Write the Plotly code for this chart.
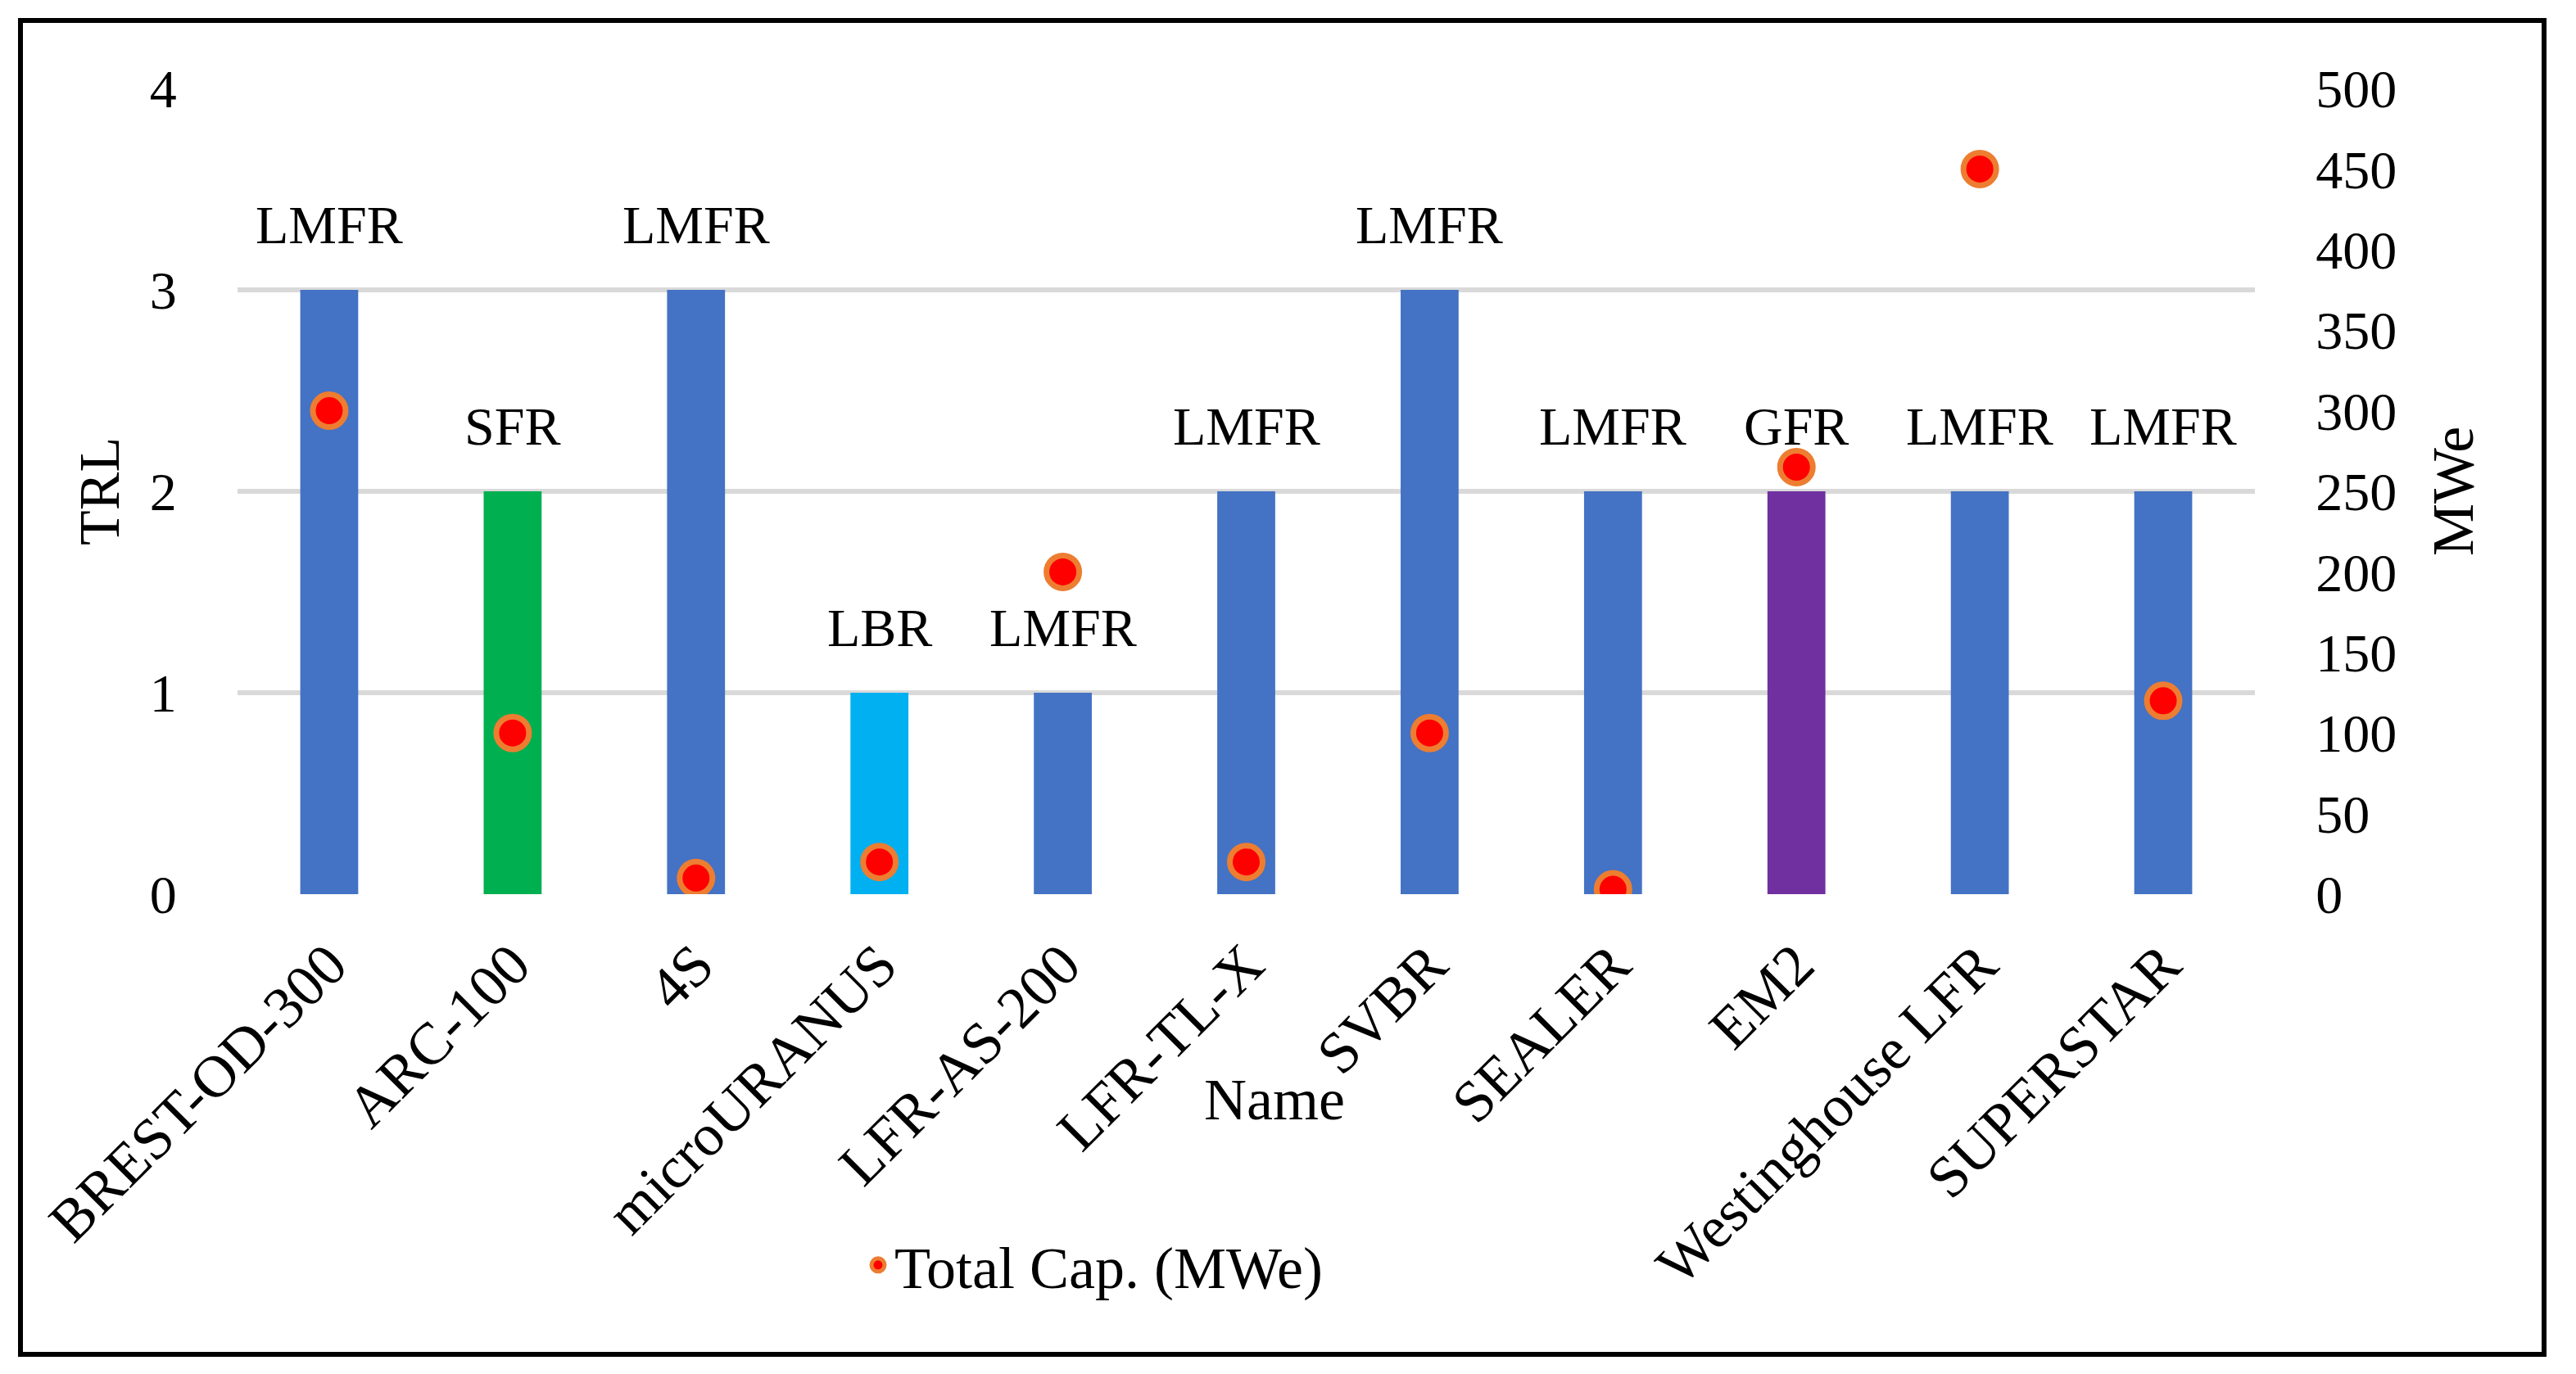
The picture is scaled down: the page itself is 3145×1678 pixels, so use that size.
import plotly.graph_objects as go

names = ["BREST-OD-300", "ARC-100", "4S", "microURANUS", "LFR-AS-200", "LFR-TL-X",
         "SVBR", "SEALER", "EM2", "Westinghouse LFR", "SUPERSTAR"]
trl = [3, 2, 3, 1, 1, 2, 3, 2, 2, 2, 2]
reactor_type = ["LMFR", "SFR", "LMFR", "LBR", "LMFR", "LMFR", "LMFR", "LMFR", "GFR", "LMFR", "LMFR"]
total_cap_mwe = [300, 100, 10, 20, 200, 20, 100, 3, 265, 450, 120]
type_colors = {"LMFR": "#4472C4", "SFR": "#00B050", "LBR": "#00B0F0", "GFR": "#7030A0"}
bar_colors = [type_colors[t] for t in reactor_type]

W, H = 3145, 1678
ML, MR, MT, MB = 290, 392, 108, 586
FONT = "Liberation Serif"
FS = 66

fig = go.Figure()
fig.add_trace(go.Bar(x=names, y=trl, marker=dict(color=bar_colors, line=dict(width=0)),
                     showlegend=False, yaxis="y", hoverinfo="x+y"))
fig.add_trace(go.Scatter(x=names, y=total_cap_mwe, mode="markers", name="Total Cap. (MWe)",
                         yaxis="y2",
                         marker=dict(color="#FF0000", size=40, line=dict(color="#ED7D31", width=7))))

annotations = []
for n, v, t in zip(names, trl, reactor_type):
    annotations.append(dict(x=n, y=v, xref="x", yref="y", text=t, showarrow=False,
                            yanchor="middle", yshift=80,
                            font=dict(family=FONT, size=FS, color="#000000")))

pw = W - ML - MR
ph = H - MT - MB
def px_x(p):
    return (p - ML) / pw
def px_y(p):
    return (H - MB - p) / ph

annotations.append(dict(x=px_x(121), y=px_y(600), xref="paper", yref="paper", text="TRL",
                        textangle=-90, showarrow=False, xanchor="center", yanchor="middle",
                        font=dict(family=FONT, size=70, color="#000000")))
annotations.append(dict(x=px_x(2995), y=px_y(600), xref="paper", yref="paper", text="MWe",
                        textangle=-90, showarrow=False, xanchor="center", yanchor="middle",
                        font=dict(family=FONT, size=72, color="#000000")))
annotations.append(dict(x=px_x(1556), y=px_y(1343), xref="paper", yref="paper", text="Name",
                        showarrow=False, xanchor="center", yanchor="middle",
                        font=dict(family=FONT, size=72, color="#000000")))

fig.update_layout(
    width=W, height=H,
    margin=dict(l=ML, r=MR, t=MT, b=MB, autoexpand=False),
    paper_bgcolor="#FFFFFF", plot_bgcolor="#FFFFFF",
    font=dict(family=FONT, size=FS, color="#000000"),
    bargap=0.684,
    xaxis=dict(range=[-0.5, len(names) - 0.5], showgrid=False, showline=False, zeroline=False,
               tickangle=-45, ticks="outside", ticklen=14, tickcolor="rgba(0,0,0,0)",
               tickfont=dict(family=FONT, size=72, color="#000000")),
    yaxis=dict(range=[0, 4], dtick=1, showgrid=True, gridcolor="#D9D9D9", gridwidth=6,
               zeroline=False, showline=False, ticks="outside", ticklen=60,
               tickcolor="rgba(0,0,0,0)",
               tickfont=dict(family=FONT, size=FS, color="#000000")),
    yaxis2=dict(range=[0, 500], dtick=50, overlaying="y", side="right", showgrid=False,
                zeroline=False, showline=False, ticks="outside", ticklen=60,
                tickcolor="rgba(0,0,0,0)",
                tickfont=dict(family=FONT, size=FS, color="#000000")),
    legend=dict(orientation="h", x=px_x(1052), y=px_y(1545), xanchor="left", yanchor="middle",
                font=dict(family=FONT, size=72, color="#000000"),
                bgcolor="rgba(0,0,0,0)"),
    annotations=annotations,
    shapes=[dict(type="rect", xref="paper", yref="paper",
                 x0=px_x(25), x1=px_x(3106), y0=px_y(1654), y1=px_y(25),
                 line=dict(color="#000000", width=6), fillcolor="rgba(0,0,0,0)", layer="above")],
)

fig.write_html("out.html", config={"displayModeBar": False},
               post_script="document.body.style.margin='0';")
